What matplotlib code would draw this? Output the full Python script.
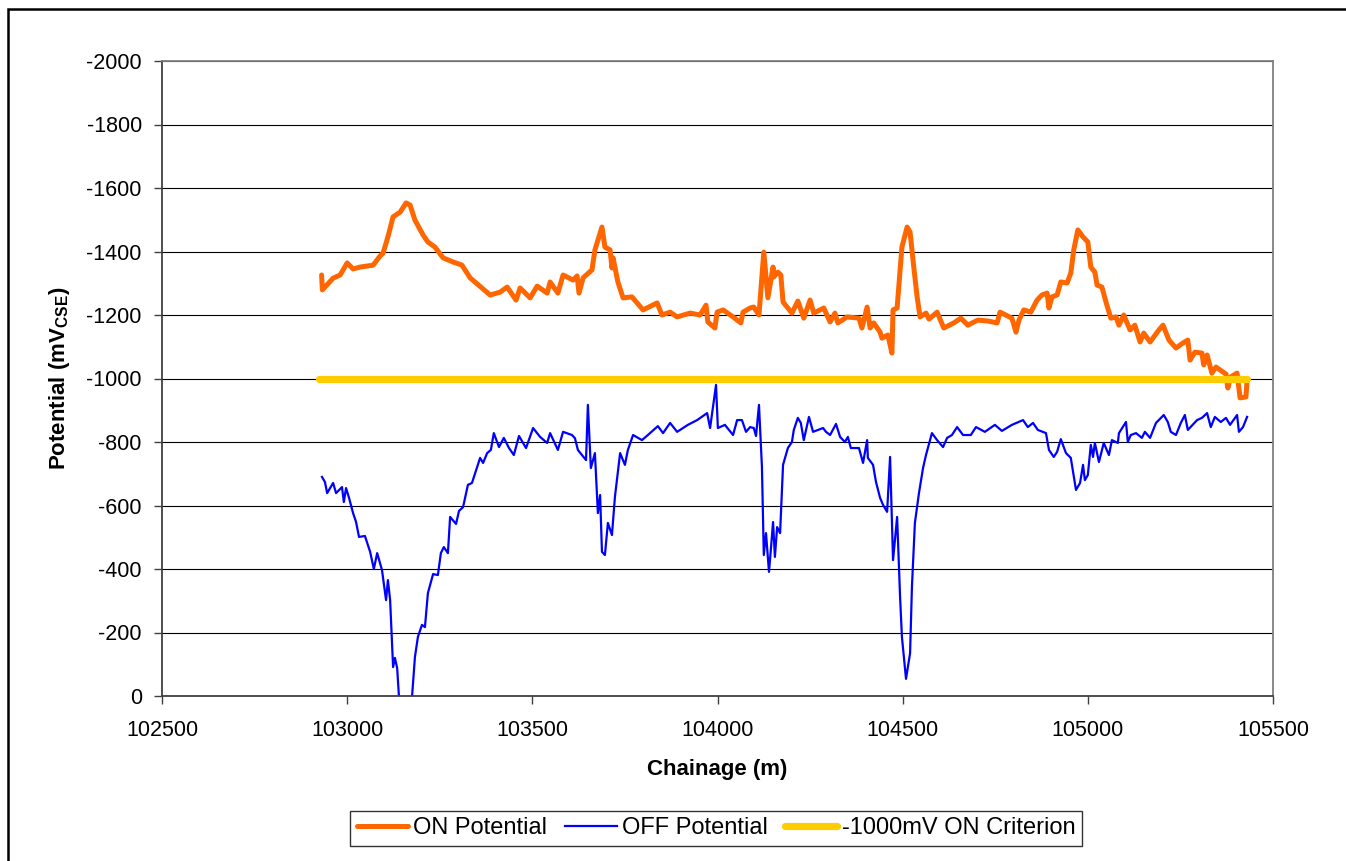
import matplotlib
matplotlib.use("Agg")
import matplotlib.pyplot as plt
from matplotlib.patches import Rectangle

plt.rcParams["font.family"] = ["Liberation Sans", "DejaVu Sans"]
plt.rcParams["mathtext.fontset"] = "custom"
plt.rcParams["mathtext.bf"] = "Liberation Sans:bold"
plt.rcParams["mathtext.rm"] = "Liberation Sans"

# ON potential (chainage m, mV CSE)
on_x = [102931, 102933, 102962, 102981, 103000, 103016, 103035, 103070, 103089, 103097,
        103110, 103124, 103143, 103159, 103170, 103183, 103205, 103218, 103237, 103259,
        103286, 103310, 103332, 103364, 103386, 103413, 103432, 103456, 103467, 103494,
        103513, 103540, 103548, 103569, 103583, 103610, 103621, 103626, 103637, 103661,
        103669, 103688, 103696, 103710, 103715, 103718, 103731, 103745, 103769, 103799,
        103837, 103850, 103872, 103891, 103926, 103953, 103969, 103974, 103993, 103999,
        104015, 104042, 104063, 104069, 104088, 104098, 104112, 104125, 104136, 104150,
        104152, 104163, 104171, 104177, 104201, 104217, 104233, 104250, 104260, 104287,
        104304, 104317, 104325, 104350, 104382, 104390, 104404, 104412, 104422, 104439,
        104444, 104460, 104471, 104474, 104485, 104498, 104512, 104520, 104530, 104539,
        104547, 104563, 104571, 104593, 104611, 104638, 104657, 104676, 104703, 104730,
        104755, 104763, 104795, 104806, 104814, 104827, 104846, 104863, 104876, 104890,
        104895, 104903, 104917, 104927, 104944, 104954, 104962, 104973, 104987, 105000,
        105008, 105019, 105025, 105038, 105049, 105062, 105076, 105084, 105097, 105114,
        105127, 105141, 105151, 105168, 105192, 105203, 105219, 105238, 105257, 105270,
        105276, 105289, 105308, 105313, 105322, 105335, 105346, 105373, 105378, 105386,
        105403, 105411, 105427, 105430]
on_mv = [-1326, -1279, -1316, -1326, -1364, -1345, -1351, -1357, -1386, -1395,
         -1446, -1509, -1524, -1553, -1546, -1499, -1452, -1430, -1414, -1380,
         -1367, -1357, -1317, -1285, -1263, -1272, -1288, -1247, -1285, -1254,
         -1291, -1269, -1304, -1269, -1326, -1310, -1323, -1269, -1317, -1342,
         -1405, -1477, -1414, -1405, -1348, -1380, -1304, -1254, -1257, -1216,
         -1238, -1200, -1209, -1194, -1206, -1200, -1231, -1178, -1159, -1209,
         -1216, -1194, -1175, -1209, -1222, -1225, -1200, -1398, -1254, -1351,
         -1320, -1335, -1326, -1241, -1206, -1244, -1190, -1247, -1206, -1222,
         -1178, -1206, -1175, -1194, -1190, -1159, -1225, -1159, -1175, -1146,
         -1127, -1137, -1080, -1216, -1222, -1414, -1477, -1461, -1351, -1257,
         -1194, -1206, -1187, -1209, -1159, -1175, -1190, -1168, -1184, -1181,
         -1175, -1209, -1190, -1146, -1184, -1216, -1209, -1247, -1263, -1269,
         -1222, -1257, -1263, -1304, -1301, -1332, -1405, -1468, -1446, -1430,
         -1351, -1335, -1294, -1288, -1241, -1190, -1194, -1168, -1200, -1153,
         -1168, -1115, -1143, -1115, -1153, -1168, -1121, -1096, -1112, -1121,
         -1058, -1083, -1080, -1043, -1074, -1017, -1036, -1014, -970, -1005,
         -1017, -939, -942, -995]

# OFF potential
off_x = [102932, 102940, 102946, 102962, 102970, 102986, 102991, 102997, 103005, 103016,
         103024, 103032, 103048, 103062, 103072, 103081, 103094, 103105, 103110, 103116,
         103124, 103129, 103135, 103140, 103158, 103175, 103183, 103191, 103202, 103210,
         103218, 103232, 103245, 103253, 103261, 103272, 103278, 103294, 103302, 103313,
         103326, 103337, 103351, 103359, 103367, 103378, 103388, 103396, 103410, 103423,
         103437, 103450, 103464, 103483, 103502, 103521, 103540, 103548, 103569, 103583,
         103607, 103615, 103623, 103645, 103650, 103658, 103669, 103677, 103683, 103688,
         103696, 103704, 103715, 103723, 103737, 103750, 103758, 103772, 103796, 103812,
         103839, 103853, 103872, 103891, 103920, 103945, 103972, 103980, 103996, 104001,
         104020, 104042, 104053, 104066, 104077, 104088, 104098, 104104, 104112, 104120,
         104125, 104131, 104139, 104144, 104150, 104155, 104161, 104169, 104177, 104190,
         104201, 104206, 104217, 104225, 104233, 104247, 104258, 104285, 104293, 104304,
         104320, 104331, 104344, 104352, 104360, 104382, 104393, 104404, 104406, 104420,
         104428, 104439, 104447, 104458, 104466, 104474, 104485, 104493, 104498, 104509,
         104520, 104525, 104533, 104544, 104555, 104563, 104579, 104593, 104609, 104620,
         104633, 104647, 104663, 104684, 104698, 104722, 104749, 104768, 104795, 104825,
         104838, 104852, 104865, 104887, 104895, 104908, 104917, 104927, 104941, 104954,
         104960, 104968, 104979, 104987, 104992, 105000, 105008, 105014, 105019, 105030,
         105043, 105057, 105065, 105081, 105084, 105103, 105108, 105116, 105130, 105146,
         105154, 105168, 105184, 105205, 105216, 105224, 105238, 105251, 105262, 105270,
         105295, 105308, 105322, 105332, 105343, 105359, 105373, 105384, 105403, 105408,
         105419, 105430]
off_mv = [-690, -674, -639, -671, -639, -658, -611, -655, -624, -576,
          -548, -501, -504, -454, -400, -450, -397, -302, -365, -302,
          -91, -120, -88, 5, 60, 5, -123, -186, -224, -217,
          -324, -384, -381, -450, -469, -450, -564, -542, -583, -595,
          -665, -671, -721, -750, -734, -765, -775, -828, -784, -813,
          -781, -759, -819, -781, -844, -816, -797, -828, -775, -832,
          -822, -812, -775, -743, -917, -718, -765, -576, -633, -454,
          -444, -545, -507, -627, -765, -728, -775, -822, -806, -822,
          -850, -828, -860, -832, -854, -869, -891, -844, -980, -844,
          -854, -822, -869, -869, -832, -847, -844, -819, -917, -721,
          -444, -513, -391, -460, -548, -438, -532, -513, -728, -781,
          -800, -838, -876, -860, -806, -879, -832, -844, -832, -822,
          -857, -816, -800, -816, -781, -781, -734, -806, -750, -728,
          -674, -624, -602, -580, -753, -428, -564, -312, -186, -54,
          -135, -343, -545, -639, -718, -759, -828, -806, -784, -813,
          -822, -847, -822, -822, -847, -832, -854, -835, -854, -869,
          -847, -860, -838, -828, -775, -753, -769, -809, -765, -750,
          -706, -649, -671, -728, -680, -696, -791, -753, -797, -737,
          -797, -759, -806, -797, -828, -863, -800, -822, -828, -813,
          -832, -813, -860, -885, -863, -832, -822, -860, -885, -838,
          -869, -876, -891, -847, -879, -863, -876, -854, -885, -832,
          -847, -879]

# -1000 mV criterion
crit_x = [102924, 105430]
crit_mv = [-1000, -1000]

x_ticks = [102500, 103000, 103500, 104000, 104500, 105000, 105500]
y_ticks = [0, -200, -400, -600, -800, -1000, -1200, -1400, -1600, -1800, -2000]

W, H = 1346, 861
fig = plt.figure(figsize=(W / 100, H / 100), dpi=100)
fig.patch.set_facecolor("white")
ax = fig.add_axes([162 / W, 1 - 696 / H, (1273 - 162) / W, (696 - 61) / H])

ax.plot(on_x, on_mv, color="#FF6600", lw=3.6, solid_joinstyle="round",
        solid_capstyle="round", label="ON Potential")
ax.plot(off_x, off_mv, color="#0000FF", lw=1.6, solid_joinstyle="round",
        label="OFF Potential")
ax.plot(crit_x, crit_mv, color="#FFCC00", lw=5.2, solid_capstyle="round",
        label="-1000mV ON Criterion")

ax.set_xlim(102500, 105500)
ax.set_ylim(0, -2000)
ax.set_xticks(x_ticks)
ax.set_yticks(y_ticks)
ax.set_xticklabels([str(t) for t in x_ticks])
ax.set_yticklabels([str(t) for t in y_ticks])
ax.yaxis.grid(True, color="black", lw=0.8)
ax.set_axisbelow(True)

for side in ["top", "right"]:
    ax.spines[side].set_color("#808080")
    ax.spines[side].set_linewidth(1.3)
for side in ["left", "bottom"]:
    ax.spines[side].set_color("#404040")
    ax.spines[side].set_linewidth(1.3)
ax.tick_params(axis="both", direction="out", length=5.5, width=1, color="#404040",
               labelsize=15.5)
ax.tick_params(axis="y", pad=9)
ax.tick_params(axis="x", pad=12)

ax.set_xlabel("Chainage (m)", fontsize=16, fontweight="bold")
ax.set_ylabel(r"Potential (mV$_{\mathbf{CSE}}$)", fontsize=16, fontweight="bold")
ax.xaxis.set_label_coords(0.5, -(759 - 696) / 635)
ax.yaxis.set_label_coords(-(162 - 72) / 1111, 0.5)

leg = fig.legend(loc="center", bbox_to_anchor=(716 / W, 1 - 828.5 / H), ncol=3,
                 fontsize=17, frameon=True, fancybox=False, shadow=False,
                 handlelength=2.2, handletextpad=0.2, columnspacing=0.75,
                 borderpad=0.28, borderaxespad=0)
leg.get_frame().set_edgecolor("black")
leg.get_frame().set_linewidth(1.0)

# outer chart border (right and bottom fall outside the picture)
fig.patches.append(Rectangle((8 / W, -0.5), 2, 1.5 - 9 / H, transform=fig.transFigure,
                             fill=False, ec="black", lw=1.8))

fig.savefig("out.png", dpi=100)
